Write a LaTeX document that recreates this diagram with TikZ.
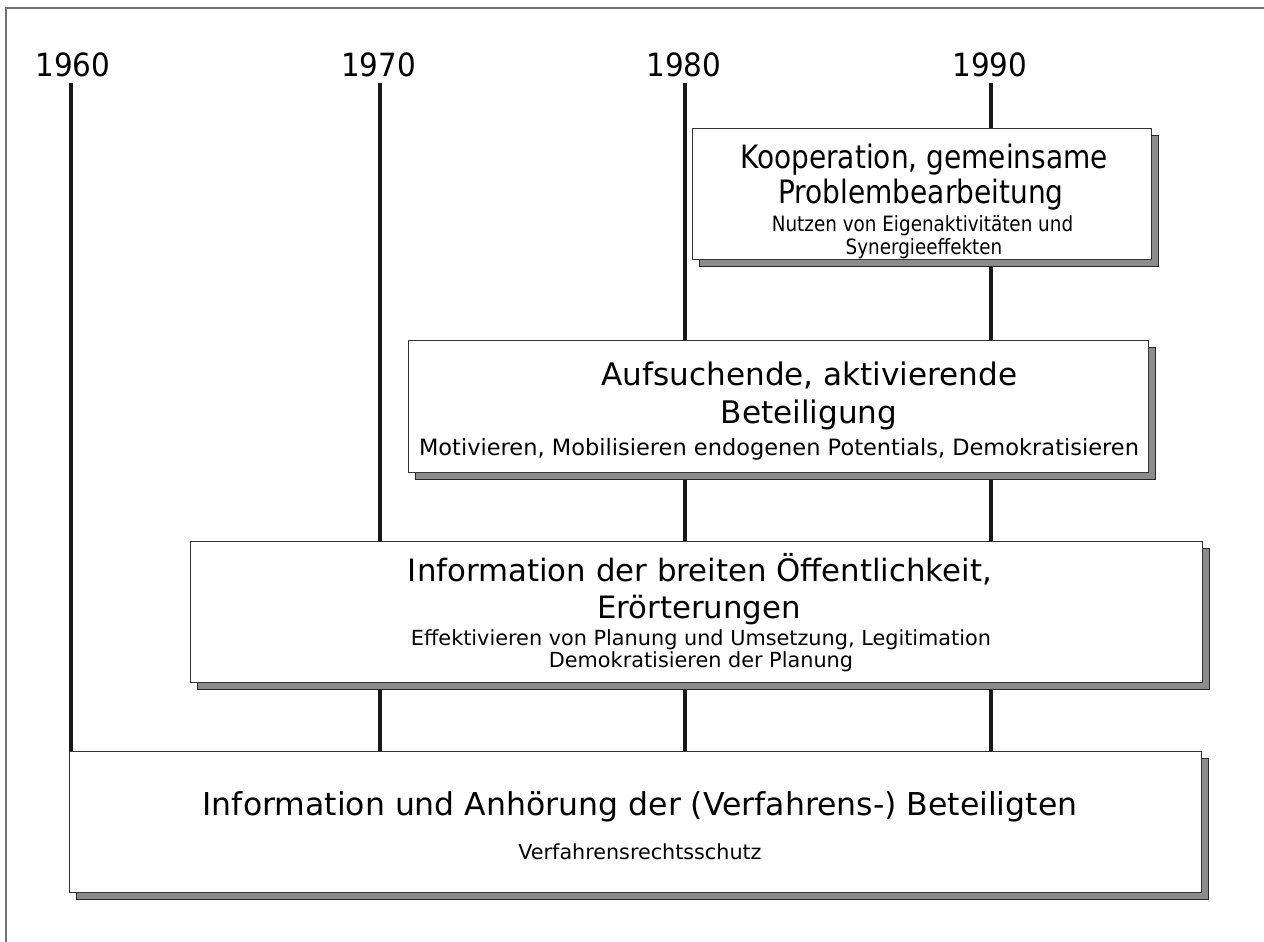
\documentclass[tikz,border=0pt]{standalone}
\usepackage{fontspec}
\setmainfont{DejaVu Sans}
\newfontfamily\condfont{DejaVu Sans}[FakeStretch=0.87]
\newfontfamily\yearfont{DejaVu Sans}[FakeStretch=0.92]
\usetikzlibrary{shadows}
\begin{document}
\begin{tikzpicture}[x=1pt,y=-1pt,
  frame/.style={draw=black!55, line width=2pt},
  yearline/.style={draw=black!90, line width=4pt},
  year/.style={font=\yearfont\fontsize{32}{32}\selectfont, anchor=base, inner sep=0pt, text=black},
  box/.style={draw=black!80, line width=1.3pt, fill=white, anchor=north west, inner sep=0pt,
    drop shadow={shadow xshift=7pt, shadow yshift=-7pt, fill=black!45, draw=black!85, line width=1.3pt, opacity=1}},
  txt/.style={anchor=base, inner sep=0pt, text=black},
]
\useasboundingbox (0,0) rectangle (1264,942);
\fill[white] (0,0) rectangle (1264,942);
\draw[frame] (6,942) -- (6,8) -- (1264,8);

% year labels
\node[year] (y60) at (73,77) {1960};
\node[year] (y70) at (378.5,77) {1970};
\node[year] (y80) at (684,77) {1980};
\node[year] (y90) at (990,77) {1990};

% time lines
\coordinate (a60) at (71,83);  \coordinate (b60) at (71,751);
\coordinate (a70) at (380,83); \coordinate (b70) at (380,751);
\coordinate (a80) at (685,83); \coordinate (b80) at (685,751);
\coordinate (a90) at (991,83); \coordinate (b90) at (991,751);
\draw[yearline] (a60) -- (b60);
\draw[yearline] (a70) -- (b70);
\draw[yearline] (a80) -- (b80);
\draw[yearline] (a90) -- (b90);

% boxes
\node[box, minimum width=459pt, minimum height=131pt] (k) at (692,128) {};
\node[box, minimum width=740pt, minimum height=132pt] (a) at (408,340) {};
\node[box, minimum width=1012pt, minimum height=141pt] (i) at (190,541) {};
\node[box, minimum width=1132pt, minimum height=141pt] (v) at (69,751) {};

% texts box 1
\node[txt, font=\condfont\fontsize{32.2}{32}\selectfont] (k1) at (924,168) {Kooperation, gemeinsame};
\node[txt, font=\condfont\fontsize{32.2}{32}\selectfont] (k2) at (921,203) {Problembearbeitung};
\node[txt, font=\condfont\fontsize{21.1}{21}\selectfont] (k3) at (922.5,231) {Nutzen von Eigenaktivitäten und};
\node[txt, font=\condfont\fontsize{21.1}{21}\selectfont] (k4) at (924,254) {Synergieeffekten};

% texts box 2
\node[txt, font=\fontsize{31.1}{31}\selectfont] (a1) at (809.5,385) {Aufsuchende, aktivierende};
\node[txt, font=\fontsize{31.1}{31}\selectfont] (a2) at (809,423) {Beteiligung};
\node[txt, font=\fontsize{22.5}{22}\selectfont] (a3) at (779,455) {Motivieren, Mobilisieren endogenen Potentials, Demokratisieren};

% texts box 3
\node[txt, font=\fontsize{30.8}{31}\selectfont] (i1) at (700,581) {Information der breiten Öffentlichkeit,};
\node[txt, font=\fontsize{30.8}{31}\selectfont] (i2) at (699,618) {Erörterungen};
\node[txt, font=\fontsize{20.8}{21}\selectfont] (i3) at (701,645) {Effektivieren von Planung und Umsetzung, Legitimation};
\node[txt, font=\fontsize{20.8}{21}\selectfont] (i4) at (701,667) {Demokratisieren der Planung};

% texts box 4
\node[txt, font=\fontsize{31.5}{31}\selectfont] (v1) at (640,815) {Information und Anhörung der (Verfahrens-) Beteiligten};
\node[txt, font=\fontsize{20.7}{21}\selectfont] (v2) at (640,859) {Verfahrensrechtsschutz};
\end{tikzpicture}
\end{document}
